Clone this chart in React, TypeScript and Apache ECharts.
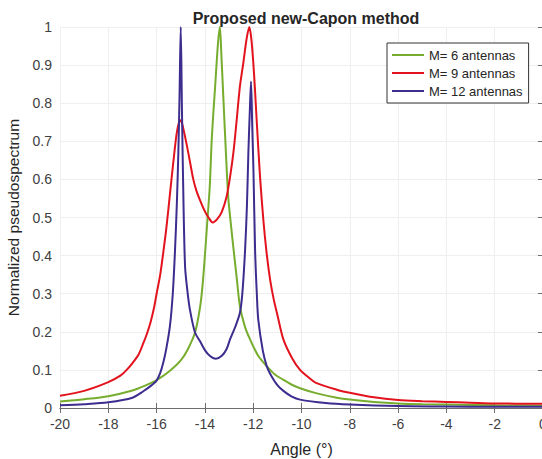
import React, { useEffect, useRef } from "react";
import * as echarts from "echarts";

const seriesNames = ["M= 6 antennas", "M= 9 antennas", "M= 12 antennas"];
const seriesColors = ["#77ad2e", "#e3131e", "#3d2d8e"];

const xTicks = { min: -20, max: 0, interval: 2 };
const yTicks = { min: 0, max: 1, interval: 0.1 };

// M = 6 antennas: [angle, value]
const m6Data: [number, number][] = [
  [-20, 0.017], [-19, 0.023], [-18, 0.031], [-17, 0.046], [-16.5, 0.058],
  [-16, 0.073], [-15.5, 0.095], [-15, 0.125], [-14.7, 0.155], [-14.4, 0.2],
  [-14.2, 0.265], [-14.1, 0.32], [-14.0, 0.4], [-13.9, 0.49], [-13.8, 0.58],
  [-13.72, 0.7], [-13.65, 0.775], [-13.58, 0.84], [-13.5, 0.92], [-13.44, 0.97],
  [-13.38, 1.0], [-13.32, 0.93], [-13.24, 0.82], [-13.1, 0.63], [-13.03, 0.55],
  [-12.92, 0.48], [-12.82, 0.42], [-12.68, 0.34], [-12.55, 0.267], [-12.35, 0.215],
  [-12.13, 0.18], [-11.8, 0.138], [-11.44, 0.11], [-11.1, 0.088], [-10.75, 0.074],
  [-10.4, 0.061], [-10.06, 0.052], [-9.4, 0.039], [-8.54, 0.027], [-8, 0.022],
  [-7, 0.016], [-6, 0.012], [-5, 0.01], [-4, 0.009], [-2, 0.007], [0, 0.006],
];

// M = 9 antennas
const m9Data: [number, number][] = [
  [-20, 0.032], [-19, 0.045], [-18, 0.068], [-17.5, 0.085], [-17.24, 0.1],
  [-17, 0.118], [-16.75, 0.14], [-16.55, 0.17], [-16.4, 0.195], [-16.25, 0.225],
  [-16.1, 0.265], [-16, 0.3], [-15.85, 0.35], [-15.72, 0.41], [-15.6, 0.47],
  [-15.45, 0.56], [-15.3, 0.65], [-15.17, 0.72], [-15.08, 0.748], [-15.0, 0.755],
  [-14.9, 0.735], [-14.75, 0.69], [-14.6, 0.64], [-14.48, 0.6], [-14.35, 0.57],
  [-14.2, 0.545], [-14.0, 0.516], [-13.85, 0.5], [-13.68, 0.487], [-13.5, 0.495],
  [-13.3, 0.515], [-13.1, 0.555], [-12.95, 0.61], [-12.82, 0.67], [-12.7, 0.745],
  [-12.55, 0.844], [-12.41, 0.905], [-12.27, 0.97], [-12.16, 1.0], [-12.08, 0.97],
  [-12.0, 0.91], [-11.93, 0.84], [-11.86, 0.76], [-11.72, 0.61], [-11.58, 0.494],
  [-11.45, 0.41], [-11.3, 0.337], [-11.15, 0.285], [-11.0, 0.245], [-10.75, 0.18],
  [-10.4, 0.132], [-10.06, 0.1], [-9.7, 0.08], [-9.4, 0.066], [-8.54, 0.048],
  [-8, 0.04], [-7, 0.028], [-6, 0.021], [-5, 0.018], [-4, 0.016], [-3, 0.014],
  [-2, 0.012], [0, 0.011],
];

// M = 12 antennas
const m12Data: [number, number][] = [
  [-20, 0.007], [-19, 0.01], [-18, 0.015], [-17, 0.027], [-16.55, 0.044],
  [-16.2, 0.06], [-16, 0.072], [-15.85, 0.092], [-15.72, 0.12], [-15.6, 0.155],
  [-15.45, 0.214], [-15.33, 0.3], [-15.24, 0.41], [-15.16, 0.54], [-15.1, 0.67],
  [-15.05, 0.82], [-15.0, 1.0], [-14.95, 0.78], [-14.89, 0.55], [-14.82, 0.37],
  [-14.72, 0.305], [-14.62, 0.258], [-14.41, 0.198], [-14.2, 0.175], [-14.0, 0.152],
  [-13.8, 0.137], [-13.55, 0.129], [-13.3, 0.137], [-13.1, 0.155], [-12.96, 0.18],
  [-12.75, 0.212], [-12.55, 0.25], [-12.45, 0.3], [-12.34, 0.41], [-12.26, 0.53],
  [-12.2, 0.67], [-12.14, 0.78], [-12.09, 0.857], [-12.04, 0.74], [-11.99, 0.625],
  [-11.92, 0.41], [-11.85, 0.3], [-11.79, 0.232], [-11.6, 0.15], [-11.44, 0.11],
  [-11.3, 0.09], [-11.0, 0.06], [-10.75, 0.045], [-10.4, 0.03], [-10.06, 0.022],
  [-9, 0.013], [-8, 0.009], [-6, 0.005], [-4, 0.004], [-2, 0.003], [0, 0.003],
];

const allData = [m6Data, m9Data, m12Data];

const FONT = "Arial, 'Liberation Sans', Helvetica, sans-serif";
const AXIS_COLOR = "#6e6e6e";
const LABEL_COLOR = "#404040";

export default function App() {
  const ref = useRef<HTMLDivElement>(null);

  useEffect(() => {
    document.body.style.margin = "0";
    if (!ref.current) return;
    const chart = echarts.init(ref.current, undefined, { renderer: "svg" });

    const axisCommon = {
      type: "value" as const,
      axisLine: { show: true, lineStyle: { color: AXIS_COLOR, width: 1 } },
      axisTick: { show: true, inside: true, length: 5, lineStyle: { color: AXIS_COLOR } },
    };

    chart.setOption({
      animation: false,
      backgroundColor: "#ffffff",
      title: {
        text: "Proposed new-Capon method",
        left: 301,
        textAlign: "center",
        top: 5,
        textStyle: { fontFamily: FONT, fontSize: 16, fontWeight: "bold", color: "#262626" },
      },
      grid: {
        left: 60,
        width: 483,
        top: 27,
        height: 381,
        containLabel: false,
        outerBoundsMode: "none",
      },
      legend: {
        data: seriesNames,
        orient: "vertical",
        left: 387,
        top: 43,
        icon: "rect",
        backgroundColor: "#ffffff",
        borderColor: "#333333",
        borderWidth: 1,
        borderRadius: 0,
        padding: [5, 6, 5, 5],
        itemWidth: 32,
        itemHeight: 2,
        itemGap: 4,
        textStyle: { fontFamily: FONT, fontSize: 13, color: "#262626", lineHeight: 14 },
      },
      xAxis: [
        {
          ...axisCommon,
          min: xTicks.min,
          max: xTicks.max,
          interval: xTicks.interval,
          position: "bottom",
          name: "Angle (°)",
          nameLocation: "middle",
          nameGap: 33,
          nameTextStyle: { fontFamily: FONT, fontSize: 16, color: "#262626" },
          axisLabel: { color: LABEL_COLOR, fontFamily: FONT, fontSize: 14, margin: 9 },
          splitLine: { show: true, lineStyle: { color: "#efefef", width: 1 } },
        },
        {
          ...axisCommon,
          min: xTicks.min,
          max: xTicks.max,
          interval: xTicks.interval,
          position: "top",
          axisLabel: { show: false },
          splitLine: { show: false },
        },
      ],
      yAxis: [
        {
          ...axisCommon,
          min: yTicks.min,
          max: yTicks.max,
          interval: yTicks.interval,
          position: "left",
          name: "Normalized pseudospectrum",
          nameLocation: "middle",
          nameGap: 34,
          nameTextStyle: { fontFamily: FONT, fontSize: 15.5, color: "#262626" },
          axisLabel: { color: LABEL_COLOR, fontFamily: FONT, fontSize: 14, margin: 8 },
          splitLine: { show: true, lineStyle: { color: "#efefef", width: 1 } },
        },
        {
          ...axisCommon,
          min: yTicks.min,
          max: yTicks.max,
          interval: yTicks.interval,
          position: "right",
          axisLabel: { show: false },
          splitLine: { show: false },
        },
      ],
      series: seriesNames.map((name, i) => ({
        name,
        type: "line",
        data: allData[i],
        symbol: "none",
        smooth: 0.3,
        clip: true,
        color: seriesColors[i],
        lineStyle: { color: seriesColors[i], width: 2 },
        z: 2 + i,
      })),
    });

    return () => chart.dispose();
  }, []);

  return <div ref={ref} style={{ width: 542, height: 459 }} />;
}
